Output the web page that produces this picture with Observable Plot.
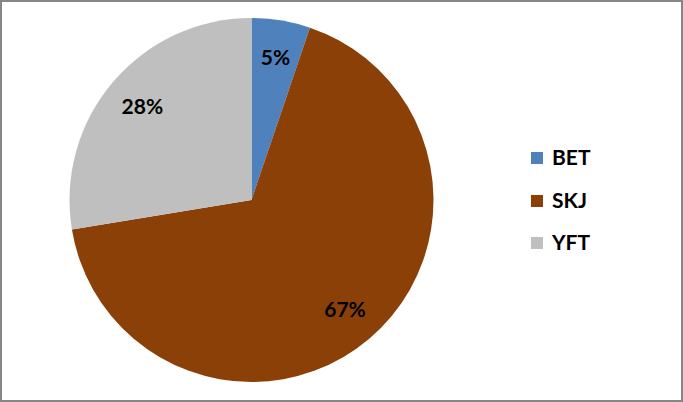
<!DOCTYPE html>
<html>
<head>
<meta charset="utf-8">
<script src="https://cdn.jsdelivr.net/npm/d3@7"></script>
<script src="https://cdn.jsdelivr.net/npm/@observablehq/plot@0.6"></script>
<style>
  html, body { margin: 0; padding: 0; background: #fff; }
  #wrap { position: relative; width: 683px; height: 402px; overflow: hidden; font-family: Lato, "Open Sans", sans-serif; }
  #wrap svg { position: absolute; left: 0; top: 0; }
  #frame { position: absolute; left: 0; top: 0; width: 683px; height: 402px; box-sizing: border-box; border: 2px solid #868686; pointer-events: none; }
  .lg { position: absolute; left: 531px; display: flex; align-items: center; }
  .sw { width: 12px; height: 12px; }
  .lt { position: absolute; left: 21px; font-weight: bold; font-size: 21px; line-height: 21px; color: #000; white-space: nowrap; }
</style>
</head>
<body>
<div id="wrap"></div>
<script>
// ---- data ----
const categories = ["BET", "SKJ", "YFT"];
const shares = [5.2, 67.2, 27.6];
const shareLabels = ["5%", "67%", "28%"];
const colors = ["#4F81BD", "#8B4008", "#BFBFBF"];

const rows = categories.map((c, i) => ({cat: c, value: shares[i], label: shareLabels[i]}));
const arcs = d3.pie().sort(null).value(d => d.value)(rows);
const colorScale = Plot.scale({color: {type: "ordinal", domain: categories, range: colors}});

// label positions in data units (unit circle)
const labelR = 0.79;
const labelRows = arcs.map(a => {
  const m = (a.startAngle + a.endAngle) / 2;
  return {x: Math.sin(m) * labelR, y: Math.cos(m) * labelR, label: a.data.label};
});

function pieMark(index, scales) {
  const {x, y} = scales;
  const cx = x(0), cy = y(0), r = x(1) - x(0);
  const arc = d3.arc().innerRadius(0).outerRadius(r);
  const g = d3.create("svg:g").attr("transform", `translate(${cx},${cy})`);
  g.selectAll("path").data(arcs).join("path")
    .attr("d", arc)
    .attr("fill", d => colorScale.apply(d.data.cat));
  return g.node();
}

const chart = Plot.plot({
  width: 683,
  height: 402,
  marginLeft: 69.5,
  marginRight: 249.5,
  marginTop: 18,
  marginBottom: 20,
  x: {domain: [-1, 1], axis: null},
  y: {domain: [-1, 1], axis: null},
  style: {background: "transparent", overflow: "visible"},
  marks: [
    pieMark,
    Plot.text(labelRows, {
      x: "x", y: "y", text: "label",
      fontSize: 21, fontWeight: "bold", fill: "#000",
      fontFamily: "Lato, 'Open Sans', sans-serif"
    })
  ]
});

const wrap = document.getElementById("wrap");
wrap.appendChild(chart);

// legend
const legendTops = [152, 194.5, 237];
categories.forEach((c, i) => {
  const item = document.createElement("div");
  item.className = "lg";
  item.style.top = legendTops[i] + "px";
  const sw = document.createElement("div");
  sw.className = "sw";
  sw.style.background = colorScale.apply(c);
  const t = document.createElement("div");
  t.className = "lt";
  t.style.top = "-5.6px";
  t.textContent = c;
  item.appendChild(sw);
  item.appendChild(t);
  wrap.appendChild(item);
});

const frame = document.createElement("div");
frame.id = "frame";
wrap.appendChild(frame);
</script>
</body>
</html>
